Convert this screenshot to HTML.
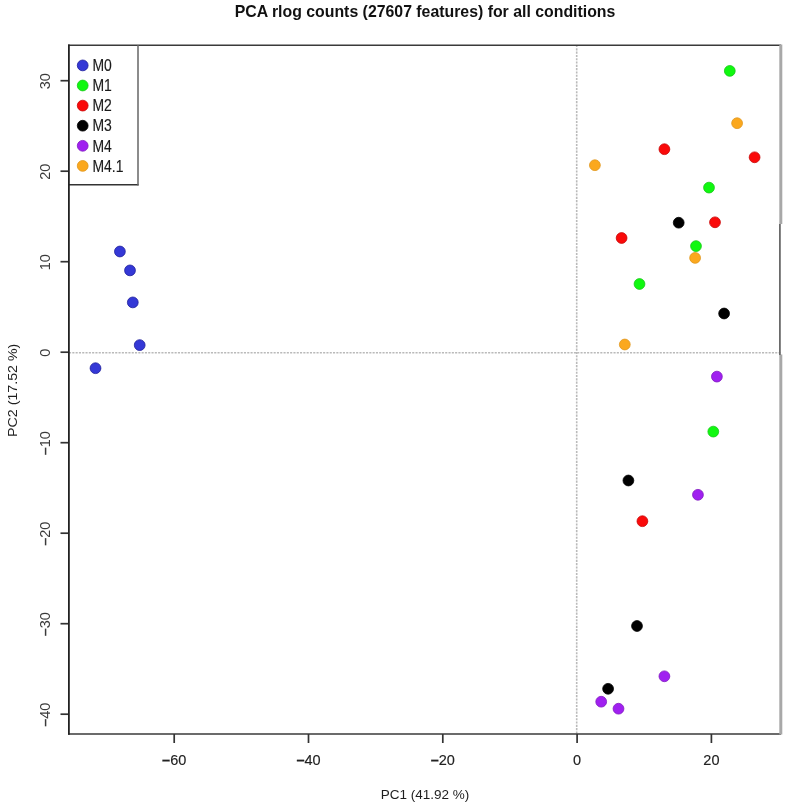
<!DOCTYPE html>
<html><head><meta charset="utf-8"><style>
html,body{margin:0;padding:0;background:#fff;}
svg{display:block;will-change:transform;}
text{font-family:"Liberation Sans",sans-serif;fill:#1a1a1a;}
.tk{font-size:14.5px;fill:#222;stroke:#222;stroke-width:0.15px;}
.ax{font-size:13.5px;fill:#1e1e1e;}
.ti{font-size:15.85px;font-weight:bold;fill:#111;}
.lg{font-size:16px;fill:#1a1a1a;stroke:#1a1a1a;stroke-width:0.15px;}
</style></head><body>
<svg width="786" height="809" viewBox="0 0 786 809">
<rect width="786" height="809" fill="#fff"/>
<line x1="69" y1="352.7" x2="781" y2="352.7" stroke="#bababa" stroke-width="1.6" stroke-dasharray="2.1 1.2"/>
<line x1="576.7" y1="45" x2="576.7" y2="734" stroke="#bababa" stroke-width="1.6" stroke-dasharray="2.1 1.2"/>
<circle cx="119.9" cy="251.5" r="5.4" fill="#3438d6" stroke="#20209c" stroke-width="0.8"/>
<circle cx="130.0" cy="270.4" r="5.4" fill="#3438d6" stroke="#20209c" stroke-width="0.8"/>
<circle cx="132.8" cy="302.4" r="5.4" fill="#3438d6" stroke="#20209c" stroke-width="0.8"/>
<circle cx="139.7" cy="345.1" r="5.4" fill="#3438d6" stroke="#20209c" stroke-width="0.8"/>
<circle cx="95.5" cy="368.2" r="5.4" fill="#3438d6" stroke="#20209c" stroke-width="0.8"/>
<circle cx="729.8" cy="70.9" r="5.4" fill="#10f810" stroke="#18c818" stroke-width="0.8"/>
<circle cx="709.0" cy="187.6" r="5.4" fill="#10f810" stroke="#18c818" stroke-width="0.8"/>
<circle cx="696.0" cy="246.1" r="5.4" fill="#10f810" stroke="#18c818" stroke-width="0.8"/>
<circle cx="639.5" cy="284.0" r="5.4" fill="#10f810" stroke="#18c818" stroke-width="0.8"/>
<circle cx="713.3" cy="431.6" r="5.4" fill="#10f810" stroke="#18c818" stroke-width="0.8"/>
<circle cx="664.4" cy="149.2" r="5.4" fill="#fa0a0a" stroke="#c80808" stroke-width="0.8"/>
<circle cx="754.6" cy="157.3" r="5.4" fill="#fa0a0a" stroke="#c80808" stroke-width="0.8"/>
<circle cx="715.0" cy="222.3" r="5.4" fill="#fa0a0a" stroke="#c80808" stroke-width="0.8"/>
<circle cx="621.6" cy="238.0" r="5.4" fill="#fa0a0a" stroke="#c80808" stroke-width="0.8"/>
<circle cx="642.4" cy="521.2" r="5.4" fill="#fa0a0a" stroke="#c80808" stroke-width="0.8"/>
<circle cx="678.7" cy="222.7" r="5.4" fill="#000000" stroke="#000000" stroke-width="0.8"/>
<circle cx="724.1" cy="313.5" r="5.4" fill="#000000" stroke="#000000" stroke-width="0.8"/>
<circle cx="628.4" cy="480.5" r="5.4" fill="#000000" stroke="#000000" stroke-width="0.8"/>
<circle cx="637.0" cy="626.0" r="5.4" fill="#000000" stroke="#000000" stroke-width="0.8"/>
<circle cx="608.1" cy="688.8" r="5.4" fill="#000000" stroke="#000000" stroke-width="0.8"/>
<circle cx="716.9" cy="376.6" r="5.4" fill="#a020f0" stroke="#8018c0" stroke-width="0.8"/>
<circle cx="697.95" cy="494.8" r="5.4" fill="#a020f0" stroke="#8018c0" stroke-width="0.8"/>
<circle cx="664.4" cy="676.3" r="5.4" fill="#a020f0" stroke="#8018c0" stroke-width="0.8"/>
<circle cx="601.2" cy="701.7" r="5.4" fill="#a020f0" stroke="#8018c0" stroke-width="0.8"/>
<circle cx="618.5" cy="708.7" r="5.4" fill="#a020f0" stroke="#8018c0" stroke-width="0.8"/>
<circle cx="594.9" cy="165.2" r="5.4" fill="#fba81e" stroke="#e0961a" stroke-width="0.8"/>
<circle cx="737.1" cy="123.2" r="5.4" fill="#fba81e" stroke="#e0961a" stroke-width="0.8"/>
<circle cx="695.1" cy="257.9" r="5.4" fill="#fba81e" stroke="#e0961a" stroke-width="0.8"/>
<circle cx="624.8" cy="344.5" r="5.4" fill="#fba81e" stroke="#e0961a" stroke-width="0.8"/>
<line x1="68" y1="45.2" x2="781" y2="45.2" stroke="#3a3a3a" stroke-width="1.5"/>
<line x1="68" y1="734.0" x2="781" y2="734.0" stroke="#3a3a3a" stroke-width="1.5"/>
<line x1="780.8" y1="44.5" x2="780.8" y2="224" stroke="#a8a8a8" stroke-width="3"/>
<line x1="780.8" y1="354.5" x2="780.8" y2="734.6" stroke="#a8a8a8" stroke-width="3"/>
<line x1="779.9" y1="224" x2="779.9" y2="355" stroke="#6a6a6a" stroke-width="1.8"/>
<line x1="174.2" y1="734" x2="174.2" y2="743" stroke="#333" stroke-width="1.7"/>
<text x="174.2" y="765" text-anchor="middle" class="tk"><tspan font-weight="bold">–</tspan>60</text>
<line x1="308.5" y1="734" x2="308.5" y2="743" stroke="#333" stroke-width="1.7"/>
<text x="308.5" y="765" text-anchor="middle" class="tk"><tspan font-weight="bold">–</tspan>40</text>
<line x1="442.8" y1="734" x2="442.8" y2="743" stroke="#333" stroke-width="1.7"/>
<text x="442.8" y="765" text-anchor="middle" class="tk"><tspan font-weight="bold">–</tspan>20</text>
<line x1="577.1" y1="734" x2="577.1" y2="743" stroke="#333" stroke-width="1.7"/>
<text x="577.1" y="765" text-anchor="middle" class="tk">0</text>
<line x1="711.4" y1="734" x2="711.4" y2="743" stroke="#333" stroke-width="1.7"/>
<text x="711.4" y="765" text-anchor="middle" class="tk">20</text>
<line x1="60.5" y1="80.7" x2="69" y2="80.7" stroke="#333" stroke-width="1.7"/>
<text transform="translate(50.2 81.2) rotate(-90)" text-anchor="middle" class="tk" style="stroke-width:0;fill:#3a3a3a">30</text>
<line x1="60.5" y1="171.2" x2="69" y2="171.2" stroke="#333" stroke-width="1.7"/>
<text transform="translate(50.2 171.7) rotate(-90)" text-anchor="middle" class="tk" style="stroke-width:0;fill:#3a3a3a">20</text>
<line x1="60.5" y1="261.7" x2="69" y2="261.7" stroke="#333" stroke-width="1.7"/>
<text transform="translate(50.2 262.2) rotate(-90)" text-anchor="middle" class="tk" style="stroke-width:0;fill:#3a3a3a">10</text>
<line x1="60.5" y1="352.2" x2="69" y2="352.2" stroke="#333" stroke-width="1.7"/>
<text transform="translate(50.2 352.7) rotate(-90)" text-anchor="middle" class="tk" style="stroke-width:0;fill:#3a3a3a">0</text>
<line x1="60.5" y1="442.7" x2="69" y2="442.7" stroke="#333" stroke-width="1.7"/>
<text transform="translate(50.2 443.2) rotate(-90)" text-anchor="middle" class="tk" style="stroke-width:0;fill:#3a3a3a"><tspan font-weight="bold">–</tspan>10</text>
<line x1="60.5" y1="533.2" x2="69" y2="533.2" stroke="#333" stroke-width="1.7"/>
<text transform="translate(50.2 533.7) rotate(-90)" text-anchor="middle" class="tk" style="stroke-width:0;fill:#3a3a3a"><tspan font-weight="bold">–</tspan>20</text>
<line x1="60.5" y1="623.7" x2="69" y2="623.7" stroke="#333" stroke-width="1.7"/>
<text transform="translate(50.2 624.2) rotate(-90)" text-anchor="middle" class="tk" style="stroke-width:0;fill:#3a3a3a"><tspan font-weight="bold">–</tspan>30</text>
<line x1="60.5" y1="714.2" x2="69" y2="714.2" stroke="#333" stroke-width="1.7"/>
<text transform="translate(50.2 714.7) rotate(-90)" text-anchor="middle" class="tk" style="stroke-width:0;fill:#3a3a3a"><tspan font-weight="bold">–</tspan>40</text>
<text x="425" y="798.6" text-anchor="middle" class="ax">PC1 (41.92 %)</text>
<text transform="translate(17.1 390.3) rotate(-90) scale(1.055 1)" text-anchor="middle" class="ax">PC2 (17.52 %)</text>
<text x="425" y="16.5" text-anchor="middle" class="ti">PCA rlog counts (27607 features) for all conditions</text>
<rect x="70" y="46" width="67" height="138" fill="#fff"/>
<line x1="68" y1="184.8" x2="138.6" y2="184.8" stroke="#333" stroke-width="1.5"/>
<line x1="138" y1="45" x2="138" y2="185.5" stroke="#666" stroke-width="1.5"/>
<circle cx="82.7" cy="65.40" r="5.4" fill="#3438d6" stroke="#20209c" stroke-width="0.8"/>
<text transform="translate(92.5 71.10) scale(0.87 1)" class="lg">M0</text>
<circle cx="82.7" cy="85.50" r="5.4" fill="#10f810" stroke="#18c818" stroke-width="0.8"/>
<text transform="translate(92.5 91.20) scale(0.87 1)" class="lg">M1</text>
<circle cx="82.7" cy="105.60" r="5.4" fill="#fa0a0a" stroke="#c80808" stroke-width="0.8"/>
<text transform="translate(92.5 111.30) scale(0.87 1)" class="lg">M2</text>
<circle cx="82.7" cy="125.70" r="5.4" fill="#000000" stroke="#000000" stroke-width="0.8"/>
<text transform="translate(92.5 131.40) scale(0.87 1)" class="lg">M3</text>
<circle cx="82.7" cy="145.80" r="5.4" fill="#a020f0" stroke="#8018c0" stroke-width="0.8"/>
<text transform="translate(92.5 151.50) scale(0.87 1)" class="lg">M4</text>
<circle cx="82.7" cy="165.90" r="5.4" fill="#fba81e" stroke="#e0961a" stroke-width="0.8"/>
<text transform="translate(92.5 171.60) scale(0.87 1)" class="lg">M4.1</text>
<line x1="68.9" y1="44.5" x2="68.9" y2="734.7" stroke="#222" stroke-width="1.8"/>
</svg>
</body></html>
